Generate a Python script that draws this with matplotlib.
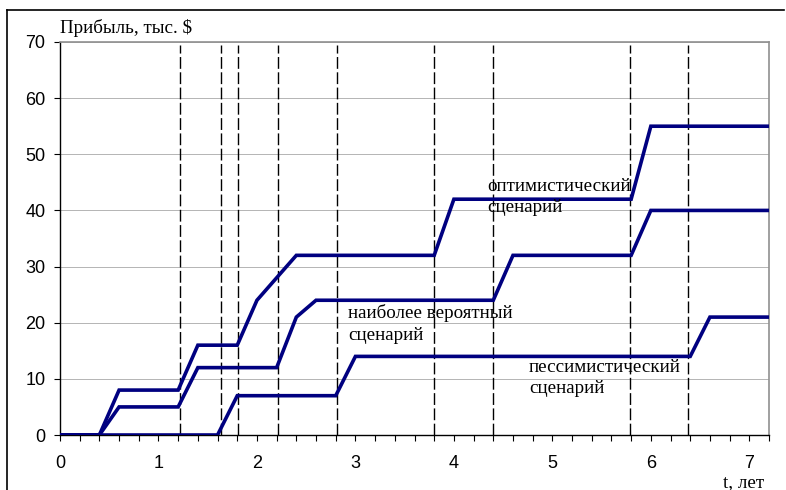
import matplotlib
matplotlib.use("Agg")
import matplotlib.pyplot as plt
from matplotlib.lines import Line2D

# Data
opt_t = [0, 0.4, 0.6, 1.2, 1.4, 1.8, 2.0, 2.4, 3.8, 4.0, 5.8, 6.0, 7.2]
opt_v = [0, 0, 8, 8, 16, 16, 24, 32, 32, 42, 42, 55, 55]
lik_t = [0, 0.4, 0.6, 1.2, 1.4, 2.2, 2.4, 2.6, 4.4, 4.6, 5.8, 6.0, 7.2]
lik_v = [0, 0, 5, 5, 12, 12, 21, 24, 24, 32, 32, 40, 40]
pes_t = [0, 1.6, 1.8, 2.8, 3.0, 6.4, 6.6, 7.2]
pes_v = [0, 0, 7, 7, 14, 14, 21, 21]
event_t = [1.22, 1.63, 1.81, 2.21, 2.81, 3.8, 4.4, 5.79, 6.38]
x_ticks = [0, 1, 2, 3, 4, 5, 6, 7]
y_ticks = [0, 10, 20, 30, 40, 50, 60, 70]

W, H = 786, 490
fig = plt.figure(figsize=(W / 100, H / 100), dpi=100)
ax = fig.add_axes([60 / W, (H - 435) / H, (769 - 60) / W, (435 - 42) / H])

num_font = "Liberation Sans"
txt_font = "Liberation Serif"

ax.set_xlim(0, 7.2)
ax.set_ylim(0, 70)

for y in y_ticks[1:]:
    ax.axhline(y, color="#b4b4b4", lw=0.7, zorder=1)

for t in event_t:
    ax.plot([t, t], [0, 69.5], color="black", lw=1.0,
            linestyle=(0, (8.5, 2.5)), zorder=2)

navy = "#000080"
for tt, vv in [(opt_t, opt_v), (lik_t, lik_v), (pes_t, pes_v)]:
    ax.plot(tt, vv, color=navy, lw=2.6, solid_joinstyle="miter", zorder=3)

ax.set_xticks(x_ticks)
ax.set_xticks([i * 0.2 for i in range(37)], minor=True)
ax.set_yticks(y_ticks)
ax.tick_params(axis="x", which="both", direction="out", length=4.5, width=0.8,
               pad=10, labelsize=13)
ax.tick_params(axis="y", which="major", direction="out", length=4.5, width=0.8,
               pad=6, labelsize=13)
for lab in ax.get_xticklabels() + ax.get_yticklabels():
    lab.set_fontfamily(num_font)

ax.spines["left"].set_color("black")
ax.spines["bottom"].set_color("black")
ax.spines["left"].set_linewidth(1.0)
ax.spines["bottom"].set_linewidth(1.0)
ax.spines["top"].set_color("#909090")
ax.spines["right"].set_color("#909090")
ax.spines["top"].set_linewidth(1.2)
ax.spines["right"].set_linewidth(1.2)

def px(x, y):
    return (x / W, 1 - y / H)

tkw = dict(family=txt_font, fontsize=13.7, transform=fig.transFigure,
           va="baseline", ha="left", zorder=5)
fig.text(*px(60, 33), "Прибыль, тыс. $", **tkw)
fig.text(*px(487, 191), "оптимистический", **tkw)
fig.text(*px(487, 212), "сценарий", **tkw)
fig.text(*px(348, 318), "наиболее вероятный", **tkw)
fig.text(*px(348, 340), "сценарий", **tkw)
fig.text(*px(529, 372), "пессимистический", **tkw)
fig.text(*px(529, 393), "сценарий", **tkw)
t2 = dict(tkw)
t2["ha"] = "right"
fig.text(*px(764, 487), "t, лет", **t2)

# outer frame (top and left visible)
fig.add_artist(Line2D([7 / W, 784 / W], [1 - 10 / H, 1 - 10 / H],
                      transform=fig.transFigure, color="black", lw=1.2))
fig.add_artist(Line2D([7 / W, 7 / W], [1 - 10 / H, 0],
                      transform=fig.transFigure, color="black", lw=1.2))

fig.savefig("out.png", dpi=100)
